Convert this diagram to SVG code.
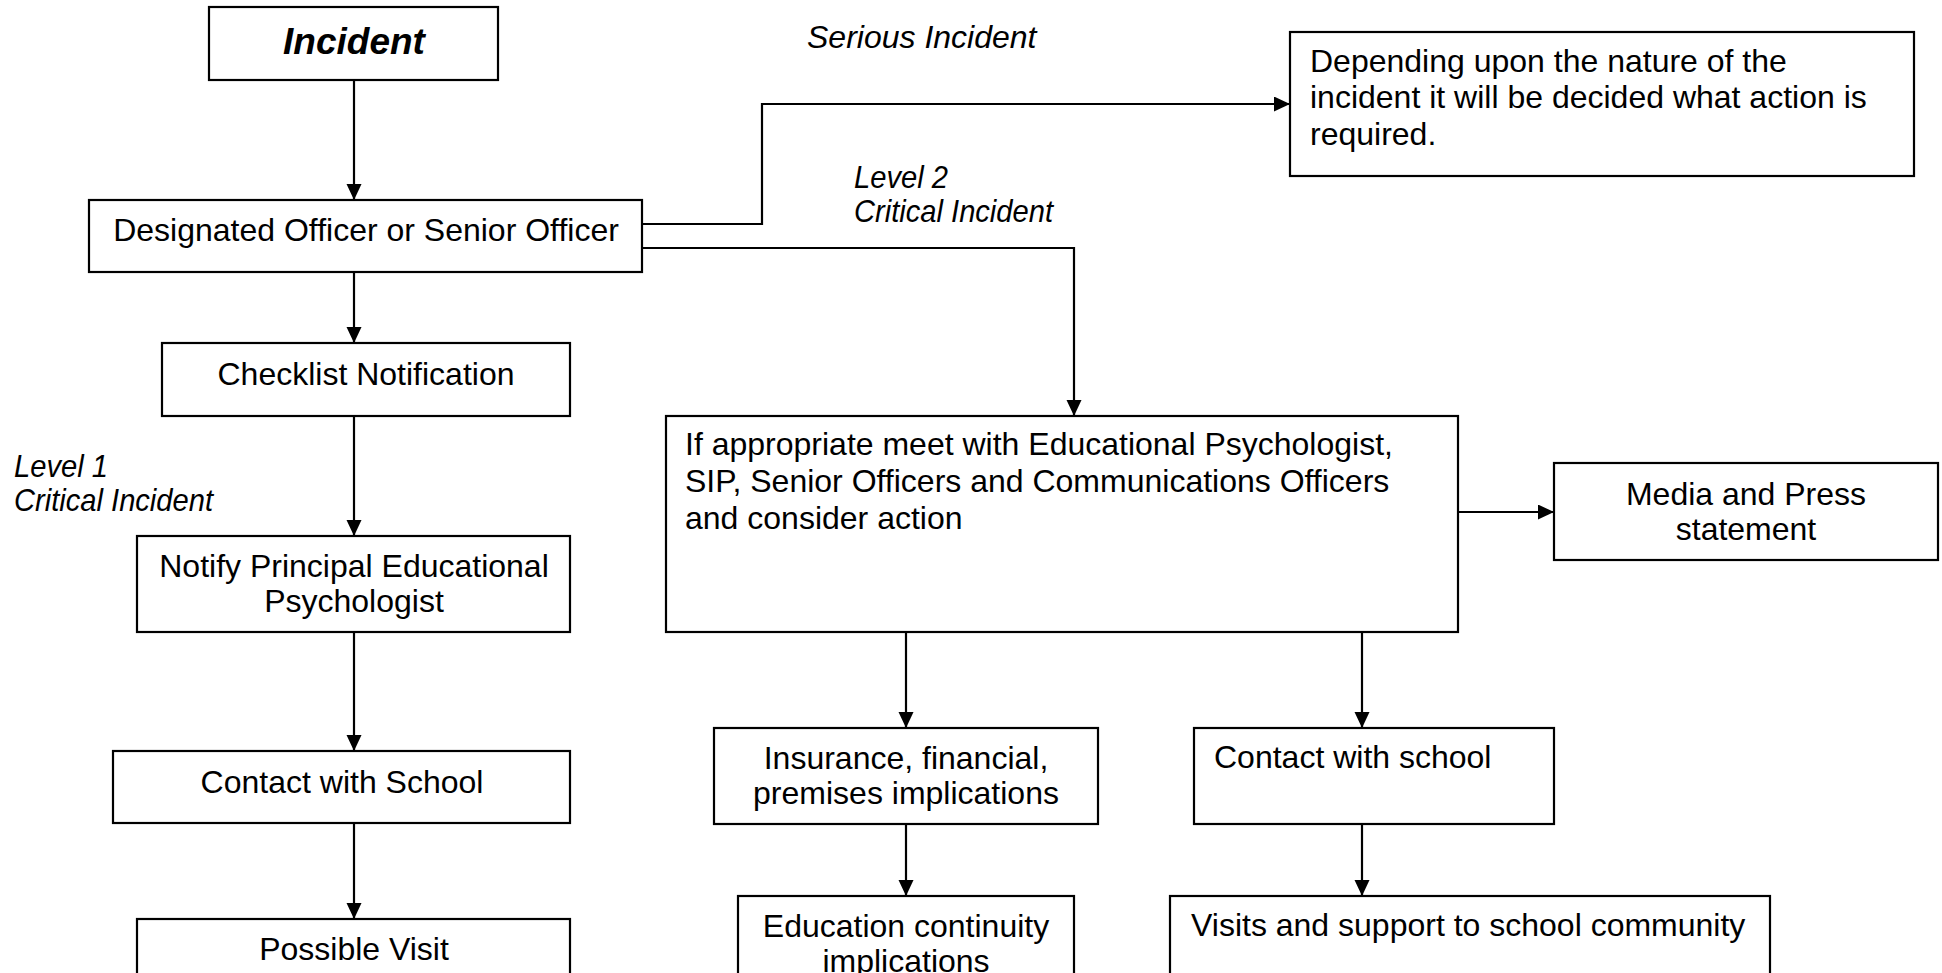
<svg xmlns="http://www.w3.org/2000/svg" width="1942" height="973" viewBox="0 0 1942 973">
<style>
.box{fill:#fff;stroke:#000;stroke-width:2.2}
.t{font-family:"Liberation Sans",Arial,sans-serif;font-size:32px;fill:#000}
.c{text-anchor:middle}
.i{font-style:italic}
.ln{fill:none;stroke:#000;stroke-width:2.2;marker-end:url(#ah)}
</style>
<defs>
<marker id="ah" markerUnits="userSpaceOnUse" markerWidth="16" markerHeight="16" refX="16" refY="7.5" orient="auto">
<path d="M0,0 L16,7.5 L0,15 Z" fill="#000"/>
</marker>
</defs>
<rect x="0" y="0" width="1942" height="973" fill="#fff"/>
<g id="connectors">
<path class="ln" d="M354,80 V200"/>
<path class="ln" d="M354,272 V343"/>
<path class="ln" d="M354,416 V536"/>
<path class="ln" d="M354,632 V751"/>
<path class="ln" d="M354,823 V919"/>
<path class="ln" d="M642,224 H762 V104 H1290"/>
<path class="ln" d="M642,248 H1074 V416"/>
<path class="ln" d="M1458,512 H1554"/>
<path class="ln" d="M906,632 V728"/>
<path class="ln" d="M906,824 V896"/>
<path class="ln" d="M1362,632 V728"/>
<path class="ln" d="M1362,824 V896"/>
</g>
<g id="labels">
<text class="t i" x="807" y="48">Serious Incident</text>
<text class="t i" x="854" y="188" textLength="94" lengthAdjust="spacingAndGlyphs">Level 2</text>
<text class="t i" x="854" y="222" textLength="199" lengthAdjust="spacingAndGlyphs">Critical Incident</text>
<text class="t i" x="14" y="477" textLength="94" lengthAdjust="spacingAndGlyphs">Level 1</text>
<text class="t i" x="14" y="511" textLength="199" lengthAdjust="spacingAndGlyphs">Critical Incident</text>
</g>
<g id="incident">
<rect class="box" x="209" y="7" width="289" height="73"/>
<text class="t c" x="354" y="54" style="font-size:37px;font-weight:bold;font-style:italic">Incident</text>
</g>
<g id="designated">
<rect class="box" x="89" y="200" width="553" height="72"/>
<text class="t c" x="366" y="241">Designated Officer or Senior Officer</text>
</g>
<g id="checklist">
<rect class="box" x="162" y="343" width="408" height="73"/>
<text class="t c" x="366" y="385">Checklist Notification</text>
</g>
<g id="notify">
<rect class="box" x="137" y="536" width="433" height="96"/>
<text class="t c" x="354" y="577">Notify Principal Educational</text>
<text class="t c" x="354" y="612">Psychologist</text>
</g>
<g id="contact-left">
<rect class="box" x="113" y="751" width="457" height="72"/>
<text class="t c" x="342" y="793">Contact with School</text>
</g>
<g id="possible-visit">
<rect class="box" x="137" y="919" width="433" height="100"/>
<text class="t c" x="354" y="960">Possible Visit</text>
</g>
<g id="depending">
<rect class="box" x="1290" y="32" width="624" height="144"/>
<text class="t" x="1310" y="72">Depending upon the nature of the</text>
<text class="t" x="1310" y="108">incident it will be decided what action is</text>
<text class="t" x="1310" y="145">required.</text>
</g>
<g id="meet">
<rect class="box" x="666" y="416" width="792" height="216"/>
<text class="t" x="685" y="455">If appropriate meet with Educational Psychologist,</text>
<text class="t" x="685" y="492">SIP, Senior Officers and Communications Officers</text>
<text class="t" x="685" y="529">and consider action</text>
</g>
<g id="media">
<rect class="box" x="1554" y="463" width="384" height="97"/>
<text class="t c" x="1746" y="505">Media and Press</text>
<text class="t c" x="1746" y="540">statement</text>
</g>
<g id="insurance">
<rect class="box" x="714" y="728" width="384" height="96"/>
<text class="t c" x="906" y="769">Insurance, financial,</text>
<text class="t c" x="906" y="804">premises implications</text>
</g>
<g id="contact-right">
<rect class="box" x="1194" y="728" width="360" height="96"/>
<text class="t" x="1214" y="768">Contact with school</text>
</g>
<g id="education">
<rect class="box" x="738" y="896" width="336" height="100"/>
<text class="t c" x="906" y="937">Education continuity</text>
<text class="t c" x="906" y="972">implications</text>
</g>
<g id="visits">
<rect class="box" x="1170" y="896" width="600" height="100"/>
<text class="t" x="1191" y="936">Visits and support to school community</text>
</g>
</svg>
